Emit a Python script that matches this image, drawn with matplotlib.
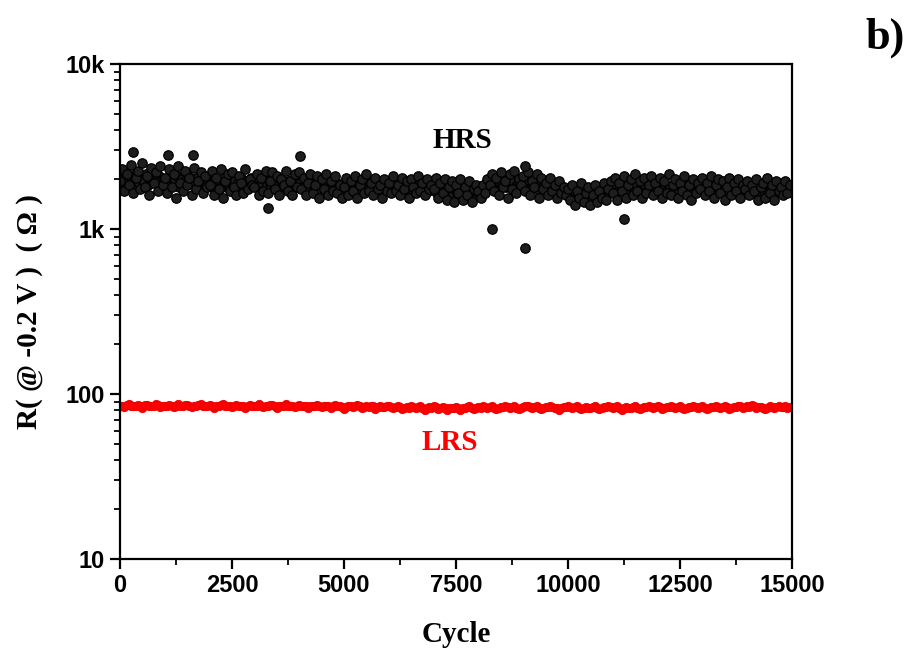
import numpy as np
import matplotlib.pyplot as plt
from matplotlib.ticker import FixedLocator, LogLocator, NullFormatter

# HRS resistance, one value every 50 cycles (ohm)
hrs_step = 50
hrs_values = [
    1950, 2300, 1700, 2150, 1850, 2450, 1650, 2050, 2250, 1750, 2500, 1800, 2100, 1600, 2350, 1900, 2200, 1700, 2400, 1850,
    2050, 1650, 2300, 1800, 2150, 1550, 2400, 1900, 1700, 2250, 1850, 2050, 1600, 2350, 1750, 1950, 2200, 1650, 2100, 1800,
    1850, 2250, 1600, 2050, 1750, 2300, 1550, 1950, 2150, 1700, 2200, 1800, 1600, 2100, 1900, 1650, 2300, 1750, 2000, 1850,
    1800, 2150, 1600, 2050, 1700, 2250, 1650, 1950, 2200, 1750, 2100, 1600, 2000, 1850, 2250, 1700, 1950, 1600, 2150, 1800,
    2200, 1750, 2050, 1600, 1900, 2150, 1650, 1850, 2100, 1550, 2000, 1750, 2150, 1600, 1950, 1700, 2100, 1650, 1850, 1550,
    1800, 2050, 1600, 1950, 1700, 2100, 1550, 1850, 2000, 1650, 2150, 1700, 1900, 1600, 2050, 1750, 1850, 1550, 2000, 1700,
    1900, 1650, 2100, 1700, 1850, 1600, 2050, 1750, 1950, 1550, 2000, 1800, 1650, 2100, 1700, 1900, 1600, 2000, 1750, 1850,
    1750, 2050, 1550, 1900, 1650, 2000, 1500, 1800, 1950, 1450, 1850, 1650, 2000, 1500, 1800, 1600, 1950, 1450, 1750, 1850,
    1700, 1550, 1850, 1650, 2000, 1850, 2150, 1700, 2050, 1600, 2200, 1800, 1950, 1550, 2150, 1750, 2250, 1650, 2000, 1850,
    2100, 1700, 2200, 1600, 1950, 1800, 2150, 1550, 2050, 1750, 1900, 1600, 2050, 1700, 1850, 1550, 1950, 1650, 1800, 1600,
    1750, 1500, 1850, 1400, 1700, 1550, 1900, 1450, 1650, 1800, 1400, 1600, 1850, 1450, 1700, 1550, 1900, 1500, 1750, 1950,
    1650, 2050, 1500, 1900, 1700, 2100, 1550, 1850, 2000, 1600, 2150, 1700, 1950, 1550, 2050, 1650, 1850, 2100, 1600, 1900,
    1700, 2050, 1550, 1950, 1650, 2150, 1600, 1850, 2000, 1550, 1900, 1700, 2100, 1600, 1850, 1500, 2000, 1650, 1900, 1750,
    2050, 1600, 1900, 1700, 2100, 1550, 1850, 2000, 1650, 1950, 1500, 1800, 2050, 1600, 1900, 1700, 2000, 1550, 1850, 1750,
    1950, 1600, 1850, 1700, 2000, 1500, 1800, 1900, 1550, 2050, 1650, 1850, 1500, 1950, 1700, 1800, 1600, 1950, 1650, 1850,
]
# HRS values at the in-between cycles (25, 75, 125 ...)
hrs_mid_values = [
    2050, 1900, 2150, 1950, 2100, 1850, 2000, 2200, 1900, 2050, 1950, 2150, 1850, 2050, 2000, 2150, 1900, 2100, 1950, 2000,
    1900, 2050, 1850, 2000, 1950, 2100, 1800, 2000, 1950, 1850, 2100, 1900, 2000, 1850, 2050, 1950, 1900, 2050, 1850, 1950,
    1950, 1800, 2000, 1850, 1950, 1800, 2050, 1900, 1850, 2000, 1800, 1950, 1900, 1850, 2000, 1950, 1800, 1900, 2050, 1850,
    1850, 1950, 1800, 1900, 2000, 1850, 1950, 1800, 1900, 1950, 1850, 2000, 1800, 1900, 1850, 1950, 1800, 1900, 1950, 1850,
    1900, 1800, 1850, 1950, 1750, 1850, 1900, 1800, 1750, 1900, 1850, 1800, 1950, 1750, 1850, 1900, 1800, 1850, 1750, 1900,
    1750, 1850, 1700, 1800, 1900, 1750, 1800, 1700, 1850, 1750, 1800, 1900, 1700, 1800, 1750, 1850, 1700, 1800, 1850, 1750,
    1800, 1750, 1850, 1700, 1800, 1900, 1750, 1800, 1700, 1850, 1750, 1800, 1850, 1700, 1800, 1750, 1850, 1700, 1800, 1750,
    1700, 1650, 1750, 1600, 1700, 1800, 1650, 1700, 1600, 1750, 1650, 1700, 1800, 1600, 1700, 1650, 1750, 1600, 1700, 1750,
    1750, 1800, 1700, 1850, 1800, 1900, 1850, 1950, 1800, 1900, 1850, 2000, 1800, 1900, 1850, 1950, 1800, 1900, 1850, 1900,
    1900, 1850, 1950, 1800, 1850, 1900, 1750, 1850, 1800, 1900, 1750, 1800, 1850, 1700, 1800, 1750, 1700, 1800, 1700, 1750,
    1650, 1600, 1700, 1550, 1650, 1600, 1700, 1550, 1600, 1650, 1550, 1650, 1600, 1700, 1550, 1650, 1600, 1700, 1650, 1700,
    1750, 1800, 1700, 1850, 1750, 1800, 1700, 1850, 1800, 1750, 1850, 1700, 1800, 1750, 1850, 1700, 1800, 1850, 1750, 1800,
    1800, 1750, 1700, 1850, 1750, 1800, 1700, 1750, 1850, 1700, 1800, 1750, 1850, 1700, 1750, 1800, 1700, 1850, 1750, 1800,
    1750, 1800, 1700, 1850, 1750, 1700, 1800, 1850, 1700, 1750, 1800, 1700, 1850, 1750, 1800, 1700, 1750, 1850, 1700, 1800,
    1700, 1750, 1650, 1800, 1700, 1750, 1650, 1700, 1800, 1650, 1750, 1700, 1650, 1800, 1700, 1750, 1650, 1700, 1750, 1700,
]

# isolated HRS points off the band
hrs_out_cycles = [290, 1070, 1630, 4020, 3300, 8300, 9040, 9040, 11250]
hrs_out_values = [2930, 2800, 2800, 2770, 1340, 1000, 767, 2410, 1150]

# LRS resistance, one value every 100 cycles (ohm)
lrs_step = 100
lrs_values = [
    85, 83, 87, 84, 86, 82, 86, 84, 87, 83, 85, 86, 83, 87, 84,
    86, 83, 85, 87, 84, 86, 82, 85, 87, 84, 83, 86, 85, 82, 86,
    84, 87, 83, 85, 86, 82, 84, 87, 85, 83, 86, 84, 82, 85, 86,
    83, 85, 82, 86, 84, 81, 85, 83, 86, 82, 84, 85, 81, 84, 83,
    85, 82, 84, 81, 83, 85, 82, 84, 80, 83, 84, 81, 83, 80, 82,
    83, 80, 82, 84, 81, 83, 85, 82, 84, 81, 83, 85, 82, 84, 81,
    83, 85, 82, 84, 81, 83, 84, 82, 80, 83, 85, 82, 84, 81, 83,
    82, 84, 81, 83, 85, 82, 84, 80, 83, 82, 84, 81, 83, 85, 82,
    84, 81, 83, 85, 82, 84, 81, 83, 85, 82, 84, 81, 83, 84, 82,
    84, 81, 83, 85, 82, 84, 86, 82, 83, 81, 84, 82, 85, 83, 82,
]
# LRS values at the in-between cycles (50, 150, 250 ...)
lrs_mid_values = [
    84, 86, 85, 85, 84, 86, 85, 85, 86, 84, 85, 84, 85, 85, 86,
    84, 85, 86, 85, 85, 84, 84, 86, 85, 85, 84, 85, 84, 84, 85,
    85, 85, 84, 86, 84, 84, 85, 85, 84, 85, 84, 85, 84, 84, 85,
    84, 84, 84, 84, 83, 83, 84, 84, 84, 83, 83, 84, 83, 83, 84,
    83, 83, 83, 82, 82, 83, 83, 82, 82, 82, 83, 82, 82, 82, 82,
    82, 82, 83, 82, 82, 82, 83, 83, 82, 82, 83, 83, 83, 82, 82,
    84, 83, 83, 82, 82, 83, 83, 82, 82, 83, 83, 83, 82, 82, 82,
    83, 82, 82, 83, 83, 83, 82, 82, 82, 83, 82, 82, 83, 83, 83,
    83, 82, 83, 83, 83, 82, 82, 83, 83, 83, 82, 82, 83, 83, 83,
    83, 82, 83, 84, 83, 83, 84, 83, 82, 82, 83, 83, 83, 84, 83,
]

x_ticks = [0, 2500, 5000, 7500, 10000, 12500, 15000]
y_ticks = [10, 100, 1000, 10000]
y_tick_labels = ['10', '100', '1k', '10k']

hrs_cycles = np.arange(len(hrs_values)) * hrs_step
hrs_mid_cycles = hrs_cycles + hrs_step // 2
lrs_cycles = np.arange(len(lrs_values)) * lrs_step
lrs_mid_cycles = lrs_cycles + lrs_step // 2

serif = ['Liberation Serif', 'DejaVu Serif']
sans = ['Liberation Sans', 'DejaVu Sans']

fig = plt.figure(figsize=(9.16, 6.55), dpi=100)
ax = fig.add_axes([0.131, 0.1466, 0.7336, 0.7557])

lrs_style = dict(color='#ff0000', markersize=6, markeredgewidth=0.6, markeredgecolor='#ee0000')
hrs_style = dict(markerfacecolor='#1e1e1e', markersize=6.8, markeredgewidth=0.9,
                 markeredgecolor='#000000')

ax.plot(lrs_cycles, lrs_values, 'o', **lrs_style)
ax.plot(lrs_mid_cycles, lrs_mid_values, 'o', **lrs_style)
ax.plot(hrs_mid_cycles, hrs_mid_values, 'o', **hrs_style)
ax.plot(hrs_cycles, hrs_values, 'o', **hrs_style)
ax.plot(hrs_out_cycles, hrs_out_values, 'o', **hrs_style)

ax.set_yscale('log')
ax.set_xlim(0, 15000)
ax.set_ylim(10, 10000)

ax.xaxis.set_major_locator(FixedLocator(x_ticks))
ax.xaxis.set_minor_locator(FixedLocator([1250 + 2500 * i for i in range(6)]))
ax.set_xticklabels([str(v) for v in x_ticks])
ax.yaxis.set_major_locator(FixedLocator(y_ticks))
ax.yaxis.set_minor_locator(LogLocator(base=10, subs=np.arange(2, 10)))
ax.yaxis.set_minor_formatter(NullFormatter())
ax.set_yticklabels(y_tick_labels)

for lab in ax.get_xticklabels() + ax.get_yticklabels():
    lab.set_family(sans)
    lab.set_fontweight('bold')
    lab.set_fontsize(17)

ax.tick_params(which='major', direction='out', length=7, width=1.6, pad=4)
ax.tick_params(which='minor', direction='out', length=4, width=1.3)
for s in ax.spines.values():
    s.set_linewidth(1.6)

ax.set_xlabel('Cycle', family=serif, fontweight='bold', fontsize=21, labelpad=17)
ax.set_ylabel('R( @ -0.2 V )  ( Ω )', family=serif, fontweight='bold', fontsize=21, labelpad=16)

ax.text(0.51, 0.845, 'HRS', transform=ax.transAxes, family=serif, fontweight='bold',
        fontsize=21, ha='center', va='center', color='black')
ax.text(0.49, 0.235, 'LRS', transform=ax.transAxes, family=serif, fontweight='bold',
        fontsize=21, ha='center', va='center', color='#ff0000')
fig.text(0.966, 0.942, 'b)', family=serif, fontweight='bold', fontsize=32,
         ha='center', va='center')

fig.savefig('out.png', dpi=100)
